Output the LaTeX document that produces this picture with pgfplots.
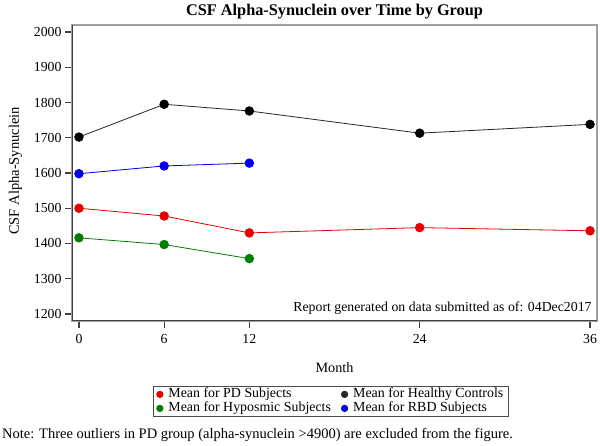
\documentclass[border=0pt]{standalone}
\usepackage{pgfplots}
\pgfplotsset{compat=1.18}
\usepackage{fontspec}
\setmainfont{Liberation Serif}
\definecolor{pdred}{RGB}{230,0,0}
\definecolor{hcblack}{RGB}{0,0,0}
\definecolor{hypgreen}{RGB}{0,128,0}
\definecolor{rbdblue}{RGB}{0,0,230}
\begin{document}
\begin{tikzpicture}[x=1pt,y=1pt]
\path[use as bounding box] (0,0) rectangle (600,446);
\begin{axis}[
  at={(72pt,125pt)}, anchor=south west,
  scale only axis, width=525pt, height=296pt,
  xmin=-0.49, xmax=36.49, ymin=1180, ymax=2020,
  xtick={0,6,12,24,36}, ytick={1200,1300,...,2000},
  tick pos=left, tick align=outside,
  major tick length=7pt,
  tick style={line width=1.2pt, black!75},
  axis line style={draw=gray!75, line width=1.2pt},
  /pgf/number format/assume math mode=true,
  /pgf/number format/set thousands separator={},
  ticklabel style={font=\fontsize{13.8}{16}\selectfont},
  xticklabel style={yshift=-3pt},
  xlabel={Month}, ylabel={CSF Alpha-Synuclein},
  xlabel style={font=\fontsize{14.2}{16}\selectfont, yshift=-12pt},
  ylabel style={font=\fontsize{14.5}{16}\selectfont, yshift=5pt, xshift=2pt},
  title={\textbf{CSF Alpha-Synuclein over Time by Group}},
  title style={font=\fontsize{16.3}{19}\selectfont, yshift=-4pt},
  legend columns=2,
  legend style={at={(axis description cs:0.154,-0.2196)}, anchor=north west,
    draw=black!70, line width=0.8pt, font=\fontsize{13.9}{16}\selectfont,
    inner xsep=3pt, inner ysep=1pt, column sep=3pt,
    nodes={inner ysep=0pt, text height=10.5pt, text depth=3.5pt},
    /tikz/every even column/.append style={column sep=8pt}},
  legend cell align=left,
  legend image code/.code={\fill[#1] (4pt,0) circle (3.2pt);},
]
\addplot[pdred, line width=0.8pt, mark=*, mark size=4.3pt, mark options={solid}] coordinates {(0,1500) (6,1478) (12,1430) (24,1445) (36,1436)};
\addlegendentry{Mean for PD Subjects}
\addplot[hcblack!85, line width=0.8pt, mark=*, mark size=4.3pt, mark options={fill=black, draw=black}] coordinates {(0,1702) (6,1795) (12,1776) (24,1713) (36,1738)};
\addlegendentry{Mean for Healthy Controls}
\addplot[hypgreen, line width=0.8pt, mark=*, mark size=4.3pt] coordinates {(0,1416) (6,1397) (12,1357)};
\addlegendentry{Mean for Hyposmic Subjects}
\addplot[rbdblue, line width=0.8pt, mark=*, mark size=4.3pt] coordinates {(0,1598) (6,1620) (12,1628)};
\addlegendentry{Mean for RBD Subjects}
\draw[line width=1.6pt, black!75] (rel axis cs:0,1) -- (rel axis cs:0,0) -- (rel axis cs:1,0);
\node[anchor=south east, font=\fontsize{13.8}{16}\selectfont, inner sep=0pt] at (rel axis cs:0.99,0.02) {Report generated on data submitted as of: 04Dec2017};
\end{axis}
\node[anchor=west, font=\fontsize{14.5}{17}\selectfont, inner sep=0pt] at (2,11) {Note: Three outliers in PD group (alpha-synuclein >4900) are excluded from the figure.};
\end{tikzpicture}
\end{document}
